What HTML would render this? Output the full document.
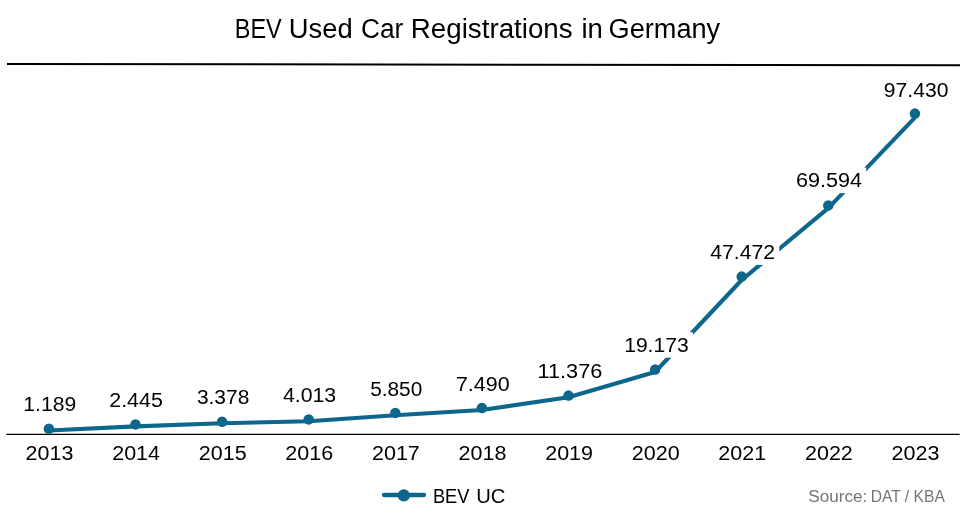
<!DOCTYPE html>
<html><head><meta charset="utf-8"><style>
html,body{margin:0;padding:0;background:#fff;}
body{width:966px;height:514px;overflow:hidden;position:relative;}
svg{position:absolute;left:0;top:0;will-change:transform;}
text{font-family:"Liberation Sans",sans-serif;}
</style></head><body>
<svg width="966" height="514" viewBox="0 0 966 514">
<rect width="966" height="514" fill="#fff"/>
<line x1="7" y1="64" x2="960" y2="65.2" stroke="#000" stroke-width="2"/>
<line x1="6.4" y1="434.4" x2="959.7" y2="434.4" stroke="#000" stroke-width="1.2"/>
<path d="M48.90 430.44 L135.50 426.35 L222.10 423.32 L308.70 421.26 L395.30 415.29 L481.90 409.96 L568.50 397.33 L655.10 371.99 L741.70 280.02 L828.30 208.12 L914.90 117.65" fill="none" stroke="#0d678c" stroke-width="4.1" stroke-linejoin="round"/>
<circle cx="48.9" cy="428.7" r="5.25" fill="#0d678c"/>
<circle cx="135.5" cy="424.4" r="5.25" fill="#0d678c"/>
<circle cx="222.1" cy="421.7" r="5.25" fill="#0d678c"/>
<circle cx="308.7" cy="419.4" r="5.25" fill="#0d678c"/>
<circle cx="395.3" cy="412.9" r="5.25" fill="#0d678c"/>
<circle cx="481.9" cy="408.0" r="5.25" fill="#0d678c"/>
<circle cx="568.5" cy="395.6" r="5.25" fill="#0d678c"/>
<circle cx="655.1" cy="369.6" r="5.25" fill="#0d678c"/>
<circle cx="741.7" cy="276.6" r="5.25" fill="#0d678c"/>
<circle cx="828.3" cy="205.4" r="5.25" fill="#0d678c"/>
<circle cx="914.9" cy="113.6" r="5.25" fill="#0d678c"/>
<rect x="19.9" y="391.4" width="60.5" height="25.5" fill="#fff"/>
<rect x="105.8" y="387.3" width="61.3" height="25.5" fill="#fff"/>
<rect x="192.4" y="384.5" width="61.1" height="25.5" fill="#fff"/>
<rect x="278.4" y="382.0" width="62.0" height="25.5" fill="#fff"/>
<rect x="365.7" y="376.5" width="60.8" height="25.5" fill="#fff"/>
<rect x="452.5" y="371.6" width="61.3" height="25.5" fill="#fff"/>
<rect x="534.1" y="358.4" width="72.4" height="25.5" fill="#fff"/>
<rect x="620.7" y="332.2" width="72.2" height="25.5" fill="#fff"/>
<rect x="705.7" y="239.4" width="73.6" height="25.5" fill="#fff"/>
<rect x="792.5" y="167.6" width="73.7" height="25.5" fill="#fff"/>
<rect x="879.3" y="77.4" width="73.3" height="25.5" fill="#fff"/>
<line x1="384" y1="495" x2="424" y2="495" stroke="#0d678c" stroke-width="4.3" stroke-linecap="round"/>
<circle cx="403.8" cy="495.4" r="6.1" fill="#0d678c"/>
<text x="234.76" y="37.70" font-size="27.00" textLength="47.05" lengthAdjust="spacingAndGlyphs" fill="#000">BEV</text>
<text x="288.77" y="37.70" font-size="27.00" textLength="63.86" lengthAdjust="spacingAndGlyphs" fill="#000">Used</text>
<text x="361.03" y="37.70" font-size="27.00" textLength="42.37" lengthAdjust="spacingAndGlyphs" fill="#000">Car</text>
<text x="410.85" y="37.70" font-size="27.00" textLength="161.77" lengthAdjust="spacingAndGlyphs" fill="#000">Registrations</text>
<text x="581.48" y="37.70" font-size="27.00" textLength="21.46" lengthAdjust="spacingAndGlyphs" fill="#000">in</text>
<text x="608.59" y="37.70" font-size="27.00" textLength="111.60" lengthAdjust="spacingAndGlyphs" fill="#000">Germany</text>
<text x="23.36" y="410.90" font-size="20.30" textLength="52.83" lengthAdjust="spacingAndGlyphs" fill="#000">1.189</text>
<text x="109.24" y="406.80" font-size="20.30" textLength="53.65" lengthAdjust="spacingAndGlyphs" fill="#000">2.445</text>
<text x="196.90" y="404.00" font-size="20.30" textLength="52.39" lengthAdjust="spacingAndGlyphs" fill="#000">3.378</text>
<text x="282.90" y="401.50" font-size="20.30" textLength="53.29" lengthAdjust="spacingAndGlyphs" fill="#000">4.013</text>
<text x="370.20" y="396.00" font-size="20.30" textLength="52.09" lengthAdjust="spacingAndGlyphs" fill="#000">5.850</text>
<text x="455.94" y="391.10" font-size="20.30" textLength="53.65" lengthAdjust="spacingAndGlyphs" fill="#000">7.490</text>
<text x="537.53" y="377.90" font-size="20.30" textLength="64.77" lengthAdjust="spacingAndGlyphs" fill="#000">11.376</text>
<text x="624.16" y="351.70" font-size="20.30" textLength="64.53" lengthAdjust="spacingAndGlyphs" fill="#000">19.173</text>
<text x="710.20" y="258.90" font-size="20.30" textLength="64.89" lengthAdjust="spacingAndGlyphs" fill="#000">47.472</text>
<text x="795.94" y="187.10" font-size="20.30" textLength="66.06" lengthAdjust="spacingAndGlyphs" fill="#000">69.594</text>
<text x="883.80" y="96.90" font-size="20.30" textLength="64.59" lengthAdjust="spacingAndGlyphs" fill="#000">97.430</text>
<text x="25.59" y="459.90" font-size="20.30" textLength="47.86" lengthAdjust="spacingAndGlyphs" fill="#000">2013</text>
<text x="112.19" y="459.90" font-size="20.30" textLength="47.86" lengthAdjust="spacingAndGlyphs" fill="#000">2014</text>
<text x="198.79" y="459.90" font-size="20.30" textLength="47.86" lengthAdjust="spacingAndGlyphs" fill="#000">2015</text>
<text x="285.39" y="459.90" font-size="20.30" textLength="47.86" lengthAdjust="spacingAndGlyphs" fill="#000">2016</text>
<text x="371.99" y="459.90" font-size="20.30" textLength="47.86" lengthAdjust="spacingAndGlyphs" fill="#000">2017</text>
<text x="458.59" y="459.90" font-size="20.30" textLength="47.86" lengthAdjust="spacingAndGlyphs" fill="#000">2018</text>
<text x="545.19" y="459.90" font-size="20.30" textLength="47.86" lengthAdjust="spacingAndGlyphs" fill="#000">2019</text>
<text x="631.79" y="459.90" font-size="20.30" textLength="47.86" lengthAdjust="spacingAndGlyphs" fill="#000">2020</text>
<text x="718.39" y="459.90" font-size="20.30" textLength="47.86" lengthAdjust="spacingAndGlyphs" fill="#000">2021</text>
<text x="804.99" y="459.90" font-size="20.30" textLength="47.86" lengthAdjust="spacingAndGlyphs" fill="#000">2022</text>
<text x="891.59" y="459.90" font-size="20.30" textLength="47.86" lengthAdjust="spacingAndGlyphs" fill="#000">2023</text>
<text x="432.93" y="502.60" font-size="19.80" textLength="36.53" lengthAdjust="spacingAndGlyphs" fill="#000">BEV</text>
<text x="476.18" y="502.60" font-size="19.80" textLength="29.21" lengthAdjust="spacingAndGlyphs" fill="#000">UC</text>
<text x="808.30" y="501.90" font-size="17.40" textLength="59.02" lengthAdjust="spacingAndGlyphs" fill="#757575">Source:</text>
<text x="870.70" y="501.90" font-size="17.40" textLength="74.14" lengthAdjust="spacingAndGlyphs" fill="#757575">DAT / KBA</text>
</svg></body></html>
